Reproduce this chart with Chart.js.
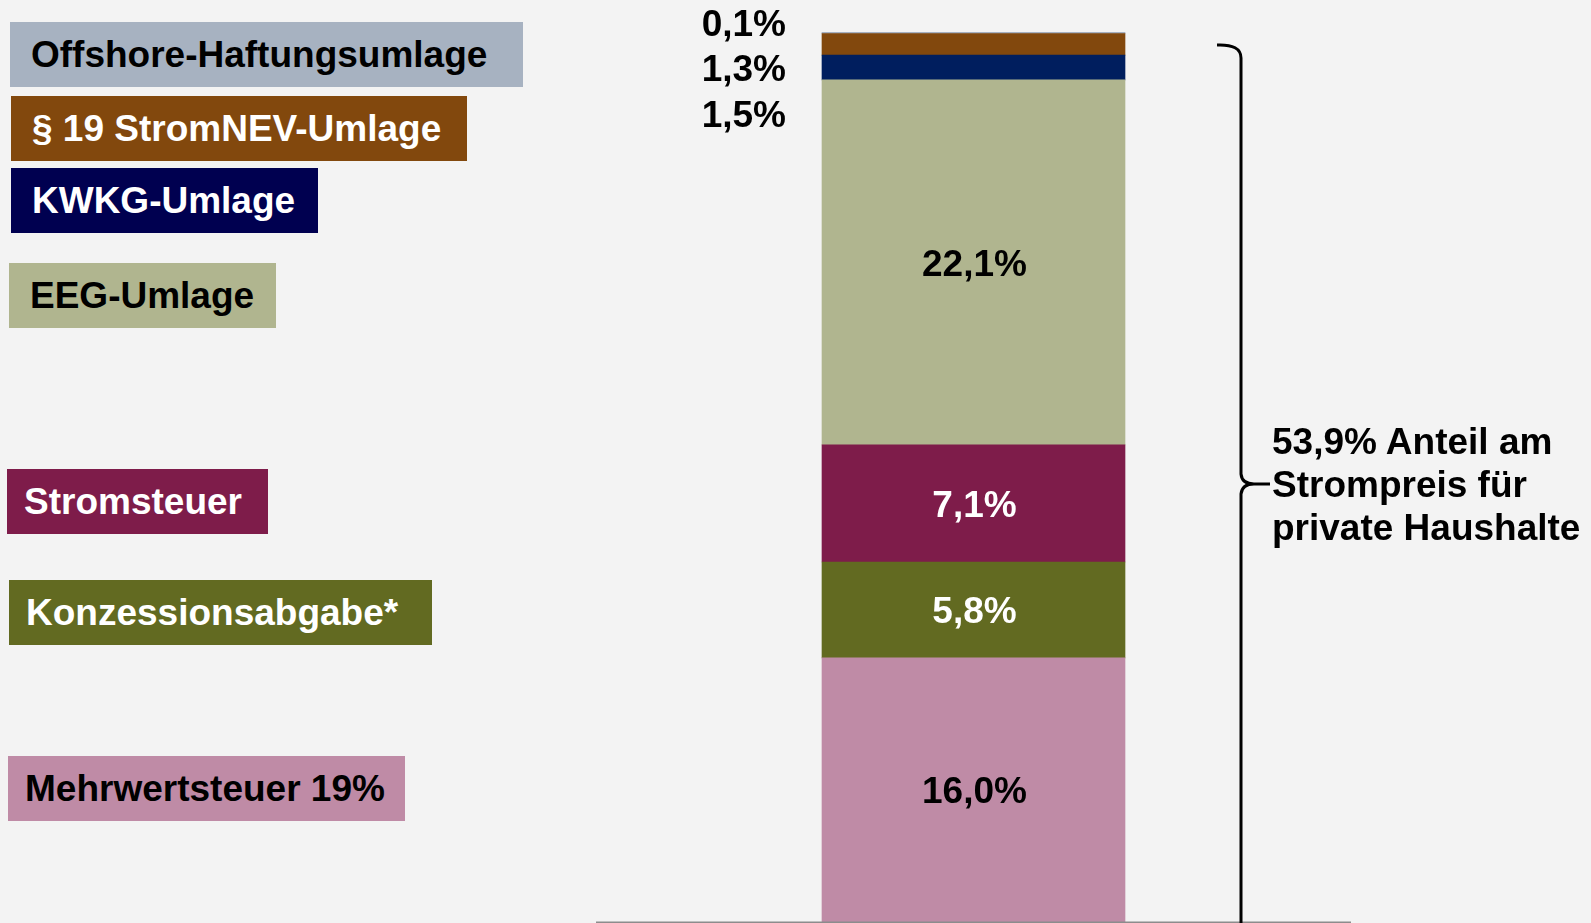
<!DOCTYPE html>
<html lang="de">
<head>
<meta charset="utf-8">
<title>Anteil Steuern und Umlagen am Strompreis</title>
<script src="https://cdn.jsdelivr.net/npm/chart.js@4/dist/chart.umd.min.js"></script>
<style>
  body { margin: 0; background: #F3F3F3; }
  .wrap { position: relative; width: 1591px; height: 923px; overflow: hidden; font-family: "Liberation Sans", Arial, sans-serif; }
  canvas { position: absolute; left: 0; top: 0; }
  .box { position: absolute; height: 65px; line-height: 66px; font-size: 37px; font-weight: bold; white-space: nowrap; box-sizing: border-box; }
  .note { position: absolute; left: 1272px; top: 420px; font-size: 37px; font-weight: bold; line-height: 43px; color: #000; white-space: nowrap; }
</style>
</head>
<body>
<div class="wrap">
  <canvas id="chart" width="1591" height="923"></canvas>

  <!-- legende links -->
  <div class="box" style="left:10px;top:22px;width:513px;padding-left:21px;background:#A7B2C1;color:#000">Offshore-Haftungsumlage</div>
  <div class="box" style="left:11px;top:96px;width:456px;padding-left:21px;background:#82480D;color:#fff">§ 19 StromNEV-Umlage</div>
  <div class="box" style="left:11px;top:168px;width:307px;padding-left:21px;background:#000050;color:#fff">KWKG-Umlage</div>
  <div class="box" style="left:9px;top:263px;width:267px;padding-left:21px;background:#B0B58F;color:#000">EEG-Umlage</div>
  <div class="box" style="left:7px;top:469px;width:261px;padding-left:17px;background:#7E1C4A;color:#fff">Stromsteuer</div>
  <div class="box" style="left:9px;top:580px;width:423px;padding-left:17px;background:#626A21;color:#fff">Konzessionsabgabe*</div>
  <div class="box" style="left:8px;top:756px;width:397px;padding-left:17px;background:#BF8BA6;color:#000">Mehrwertsteuer 19%</div>

  <div class="note">53,9% Anteil am<br>Strompreis für<br>private Haushalte</div>
</div>

<script>
// daten
const categories = ['Strompreis'];
const seriesNames = ['Mehrwertsteuer 19%', 'Konzessionsabgabe*', 'Stromsteuer', 'EEG-Umlage', 'KWKG-Umlage', '§ 19 StromNEV-Umlage', 'Offshore-Haftungsumlage'];
const shares = [16.0, 5.8, 7.1, 22.1, 1.5, 1.3, 0.1];
const totalShare = 53.9;

const barColors = ['#BF8BA6', '#626A21', '#7E1C4A', '#B0B58F', '#001E5E', '#82480D', '#A6B0C0'];
const labelColors = ['#000', '#fff', '#fff', '#000'];

function fmt(v) {
  return v.toFixed(1).replace('.', ',') + '%';
}

// beschriftung in den balken, kleine werte links daneben, grundlinie und klammer
const labelsPlugin = {
  id: 'labels',
  afterDatasetsDraw(chart) {
    const ctx = chart.ctx;
    const area = chart.chartArea;
    const yScale = chart.scales.y;
    ctx.save();
    ctx.font = 'bold 37px "Liberation Sans", Arial, sans-serif';

    // große segmente
    ctx.textAlign = 'center';
    ctx.textBaseline = 'alphabetic';
    for (let i = 0; i < 4; i++) {
      const bar = chart.getDatasetMeta(i).data[0];
      ctx.fillStyle = labelColors[i];
      ctx.fillText(fmt(shares[i]), bar.x + 1, (bar.y + bar.base) / 2 + 13.5);
    }

    // kleine segmente als liste links vom balken
    const topBar = chart.getDatasetMeta(6).data[0];
    const left = topBar.x - topBar.width / 2 - 36;
    ctx.textAlign = 'right';
    ctx.fillStyle = '#000';
    ctx.fillText(fmt(shares[6]), left, area.top + 4);
    ctx.fillText(fmt(shares[5]), left, area.top + 49);
    ctx.fillText(fmt(shares[4]), left, area.top + 95);

    // grundlinie
    const y0 = yScale.getPixelForValue(0);
    ctx.strokeStyle = '#8C8C8C';
    ctx.lineWidth = 2;
    ctx.beginPath();
    ctx.moveTo(area.left, y0 + 0.5);
    ctx.lineTo(area.right, y0 + 0.5);
    ctx.stroke();

    // geschweifte klammer
    ctx.strokeStyle = '#000';
    ctx.lineWidth = 3;
    ctx.beginPath();
    ctx.moveTo(1217, 45);
    ctx.quadraticCurveTo(1241, 44, 1241, 58);
    ctx.lineTo(1241, 474);
    ctx.quadraticCurveTo(1242, 484, 1254, 484);
    ctx.lineTo(1270, 484);
    ctx.moveTo(1254, 484);
    ctx.quadraticCurveTo(1242, 484, 1241, 494);
    ctx.lineTo(1241, 930);
    ctx.stroke();

    ctx.restore();
  }
};

const ctx = document.getElementById('chart').getContext('2d');
const myChart = new Chart(ctx, {
  type: 'bar',
  data: {
    labels: categories,
    datasets: seriesNames.map((name, i) => ({
      label: name,
      data: [shares[i]],
      backgroundColor: barColors[i],
      borderWidth: 0,
      barThickness: 303
    }))
  },
  options: {
    responsive: false,
    animation: false,
    layout: { padding: { left: 596, right: 240, top: 32, bottom: 1 } },
    plugins: {
      legend: { display: false },
      tooltip: { enabled: false }
    },
    scales: {
      x: { stacked: true, display: false },
      y: { stacked: true, display: false, min: 0, max: totalShare }
    }
  },
  plugins: [labelsPlugin]
});
</script>
</body>
</html>
